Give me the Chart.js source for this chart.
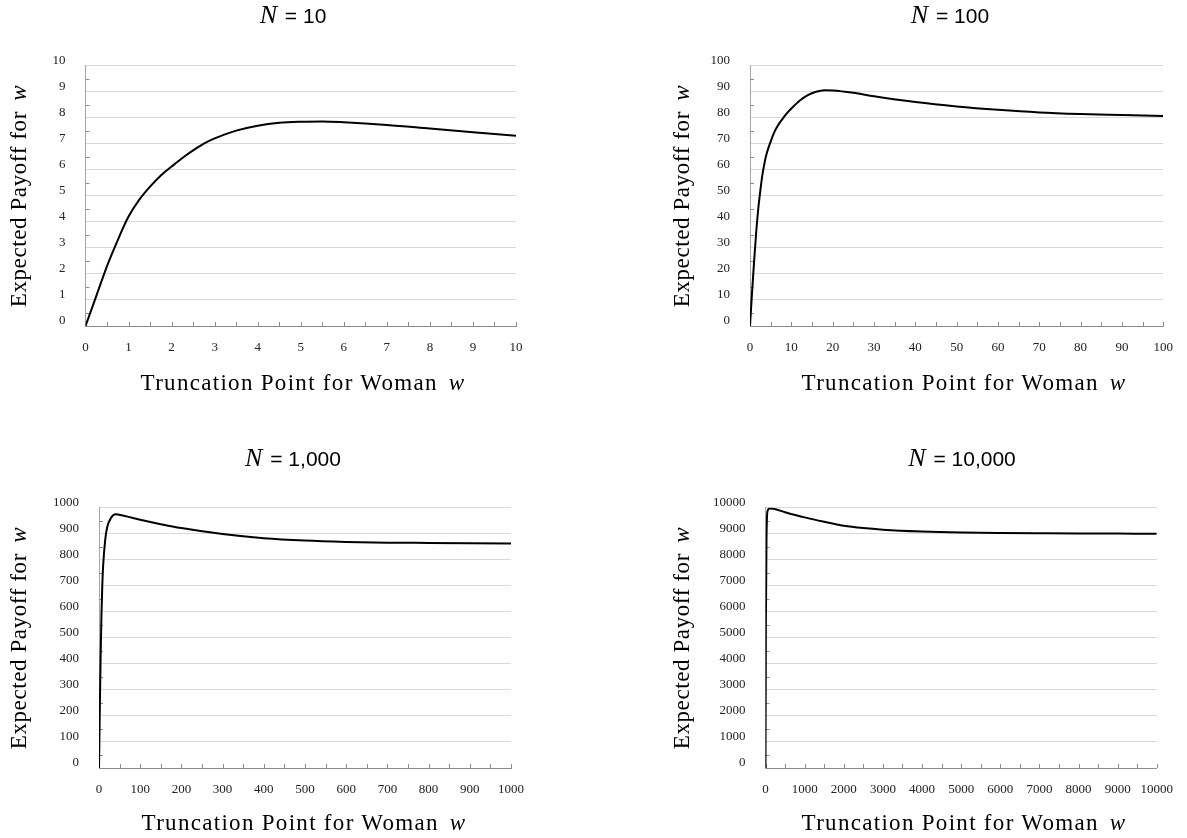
<!DOCTYPE html>
<html>
<head>
<meta charset="utf-8">
<script src="https://cdn.jsdelivr.net/npm/chart.js@4.4.0/dist/chart.umd.min.js"></script>
<style>
  body { margin: 0; background: #fff; }
  #page { position: relative; width: 1187px; height: 838px; overflow: hidden; }
  #page canvas { position: absolute; left: 0; top: 0; }
  .lbl { position: absolute; transform: translate(-50%, -50%); white-space: nowrap; color: #000; font-family: 'Liberation Serif', serif; }
  .ttl { font-family: 'Liberation Sans', sans-serif; font-size: 21px; }
  .ttl i { font-family: 'Liberation Serif', serif; font-size: 26px; margin-right: 2px; }
  .ax { font-size: 23px; letter-spacing: 0.6px; }
  .ax.xt { letter-spacing: 1.3px; }
  .ax i { margin-left: 4px; }
  .rot { transform: translate(-50%, -50%) rotate(-90deg); }
</style>
</head>
<body>
<div id="page">
  <canvas id="c10" width="1187" height="838"></canvas>
  <canvas id="c100" width="1187" height="838"></canvas>
  <canvas id="c1000" width="1187" height="838"></canvas>
  <canvas id="c10000" width="1187" height="838"></canvas>

  <div class="lbl ttl" style="left:293px; top:15px"><i>N</i> = 10</div>
  <div class="lbl ttl" style="left:950px; top:15px"><i>N</i> = 100</div>
  <div class="lbl ttl" style="left:293px; top:458px"><i>N</i> = 1,000</div>
  <div class="lbl ttl" style="left:962px; top:458px"><i>N</i> = 10,000</div>

  <div class="lbl ax xt" style="left:303px; top:383px">Truncation Point for Woman <i>w</i></div>
  <div class="lbl ax xt" style="left:964px; top:383px">Truncation Point for Woman <i>w</i></div>
  <div class="lbl ax xt" style="left:304px; top:823px">Truncation Point for Woman <i>w</i></div>
  <div class="lbl ax xt" style="left:964px; top:823px">Truncation Point for Woman <i>w</i></div>

  <div class="lbl ax rot" style="left:19px; top:196px">Expected Payoff for <i>w</i></div>
  <div class="lbl ax rot" style="left:682px; top:196px">Expected Payoff for <i>w</i></div>
  <div class="lbl ax rot" style="left:19px; top:638px">Expected Payoff for <i>w</i></div>
  <div class="lbl ax rot" style="left:682px; top:638px">Expected Payoff for <i>w</i></div>
</div>

<script>
// N = 10
const w10 = [0, 0.25, 0.5, 0.75, 1, 1.25, 1.5, 1.75, 2, 2.25, 2.5, 2.75, 3, 3.5, 4, 4.5, 5, 5.5, 6, 7, 8, 9, 10];
const pay10 = [0, 1.15, 2.3, 3.3, 4.2, 4.85, 5.35, 5.78, 6.12, 6.45, 6.74, 7.0, 7.2, 7.5, 7.69, 7.8, 7.84, 7.85, 7.82, 7.72, 7.58, 7.44, 7.3];

// N = 100
const w100 = [0, 0.5, 1, 1.5, 2, 2.5, 3, 3.5, 4, 5, 6, 7, 8, 9, 10, 12, 14, 16, 18, 20, 25, 30, 40, 50, 60, 70, 80, 90, 100];
const pay100 = [0, 13, 25, 36, 45, 52, 58, 62.5, 66, 70.8, 74.8, 77.6, 79.8, 81.8, 83.5, 86.5, 88.6, 89.9, 90.5, 90.4, 89.5, 88.2, 86, 84.3, 83, 82, 81.4, 81, 80.6];

// N = 1,000
const w1000 = [0, 2, 4, 6, 8, 10, 15, 20, 30, 40, 60, 100, 150, 200, 300, 400, 500, 600, 700, 800, 900, 1000];
const pay1000 = [0, 230, 430, 590, 700, 775, 875, 925, 962, 974, 968, 953, 936, 921, 898, 882, 873, 868, 865, 864, 863, 862];

// N = 10,000
const w10000 = [0, 10, 25, 50, 100, 200, 500, 1000, 1500, 2000, 2500, 3000, 4000, 5000, 6000, 7000, 8000, 9000, 10000];
const pay10000 = [0, 5500, 8700, 9850, 9960, 9950, 9820, 9620, 9450, 9300, 9210, 9150, 9080, 9040, 9020, 9010, 9003, 8998, 8995];

// axis maximum and step for each panel
const axisMax = [10, 100, 1000, 10000];
const axisStep = [1, 10, 100, 1000];

Chart.defaults.font.family = "'Liberation Serif', serif";
Chart.defaults.font.size = 13;
Chart.defaults.color = '#222';

const W = 1187, H = 838;
const YW = 60, XH = 40;

// small tick marks drawn inward, every half step
const innerTicks = {
    id: 'innerTicks',
    beforeDatasetsDraw(chart, args, opts) {
        const ctx = chart.ctx, x = chart.scales.x, y = chart.scales.y;
        const half = opts.step / 2;
        ctx.save();
        ctx.strokeStyle = '#8c8c8c';
        ctx.lineWidth = 1;
        ctx.beginPath();
        for (let v = 0; v <= opts.max + 1e-9; v += half) {
            const px = Math.round(x.getPixelForValue(v)) + 0.5;
            ctx.moveTo(px, y.bottom);
            ctx.lineTo(px, y.bottom - 4);
        }
        for (let v = half; v < opts.max; v += opts.step) {
            const py = Math.round(y.getPixelForValue(v)) + 0.5;
            ctx.moveTo(x.left, py);
            ctx.lineTo(x.left + 4, py);
        }
        ctx.stroke();
        ctx.restore();
    }
};

function drawPanel(id, xs, ys, max, step, area) {
    const ctx = document.getElementById(id).getContext('2d');
    new Chart(ctx, {
        type: 'line',
        data: {
            datasets: [{
                data: xs.map((v, i) => ({ x: v, y: ys[i] })),
                borderColor: '#000',
                borderWidth: 2,
                pointRadius: 0,
                tension: 0.4,
                cubicInterpolationMode: 'monotone',
                fill: false
            }]
        },
        options: {
            responsive: false,
            animation: false,
            events: [],
            layout: {
                padding: {
                    left: area.left - YW,
                    top: area.top,
                    right: W - area.right,
                    bottom: H - area.bottom - XH
                }
            },
            plugins: {
                legend: { display: false },
                tooltip: { enabled: false },
                innerTicks: { max: max, step: step }
            },
            scales: {
                x: {
                    type: 'linear',
                    min: 0, max: max,
                    afterFit: s => { s.height = XH; },
                    grid: { display: false, drawTicks: false },
                    border: { display: true, color: '#8c8c8c', width: 1 },
                    ticks: { stepSize: step, autoSkip: false, maxRotation: 0, padding: 14, callback: v => String(v) }
                },
                y: {
                    min: 0, max: max,
                    afterFit: s => { s.width = YW; },
                    grid: { color: '#d9d9d9', lineWidth: 1, drawTicks: false },
                    border: { display: true, color: '#a6a6a6', width: 1 },
                    ticks: { stepSize: step, padding: 20, labelOffset: -5, callback: v => String(v) }
                }
            }
        },
        plugins: [innerTicks]
    });
}

drawPanel('c10', w10, pay10, axisMax[0], axisStep[0], { left: 85.5, top: 65.5, right: 516, bottom: 326 });
drawPanel('c100', w100, pay100, axisMax[1], axisStep[1], { left: 750, top: 65.5, right: 1170, bottom: 326 });
drawPanel('c1000', w1000, pay1000, axisMax[2], axisStep[2], { left: 99, top: 507.5, right: 511, bottom: 768 });
drawPanel('c10000', w10000, pay10000, axisMax[3], axisStep[3], { left: 765.5, top: 507.5, right: 1163, bottom: 768 });
</script>
</body>
</html>
